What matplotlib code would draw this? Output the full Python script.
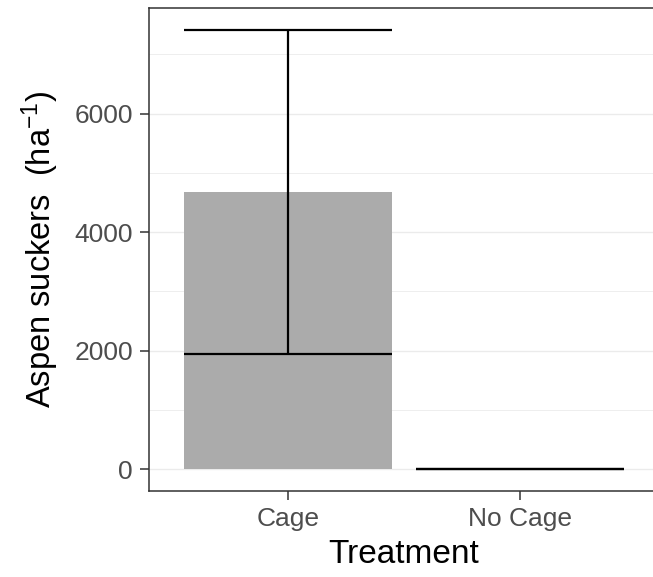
import matplotlib
matplotlib.use("Agg")
import matplotlib.pyplot as plt

# data
treatments = ["Cage", "No Cage"]
mean_suckers = [4680, 0]
lower_suckers = [1935, 0]
upper_suckers = [7410, 0]
y_ticks = [0, 2000, 4000, 6000]
y_minor = [1000, 3000, 5000, 7000]

plt.rcParams["font.family"] = ["Liberation Sans", "DejaVu Sans"]
plt.rcParams["mathtext.fontset"] = "custom"
plt.rcParams["mathtext.rm"] = "Liberation Sans"
plt.rcParams["mathtext.it"] = "Liberation Sans:italic"

fig = plt.figure(figsize=(6.53, 5.77), dpi=100)
# panel runs a little past the right edge of the picture, as in the reference
ax = fig.add_axes([149 / 653, 86 / 577, 510 / 653, 483 / 577])

x = list(range(1, len(treatments) + 1))
width = 0.9

for v in y_ticks:
    ax.axhline(v, color="#EBEBEB", lw=1.0, zorder=0)
for v in y_minor:
    ax.axhline(v, color="#EBEBEB", lw=0.6, zorder=0)

ax.bar(x, mean_suckers, width=width, color="#ABABAB", zorder=1)
ax.vlines(x, lower_suckers, upper_suckers, color="black", lw=1.6, zorder=2)
ax.hlines(lower_suckers, [xi - width / 2 for xi in x], [xi + width / 2 for xi in x],
          color="black", lw=1.6, zorder=2)
ax.hlines(upper_suckers, [xi - width / 2 for xi in x], [xi + width / 2 for xi in x],
          color="black", lw=1.6, zorder=2)

span = max(upper_suckers) - min(lower_suckers)
ax.set_ylim(min(lower_suckers) - 0.05 * span, max(upper_suckers) + 0.05 * span)
ax.set_xlim(0.4, 2.6)

ax.set_xticks(x)
ax.set_xticklabels(treatments)
ax.set_yticks(y_ticks)
ax.set_yticklabels([str(v) for v in y_ticks])
ax.tick_params(axis="both", length=6.5, width=1.1, color="#333333",
               labelcolor="#4D4D4D", labelsize=19, pad=5)

for s in ax.spines.values():
    s.set_color("#333333")
    s.set_linewidth(1.1)

ax.set_xlabel("Treatment", fontsize=24, color="black", labelpad=6)
ax.set_ylabel(r"Aspen suckers  (ha$^{-1}$)", fontsize=23.5, color="black", labelpad=10)

fig.savefig("out.png", dpi=100, facecolor="white")
